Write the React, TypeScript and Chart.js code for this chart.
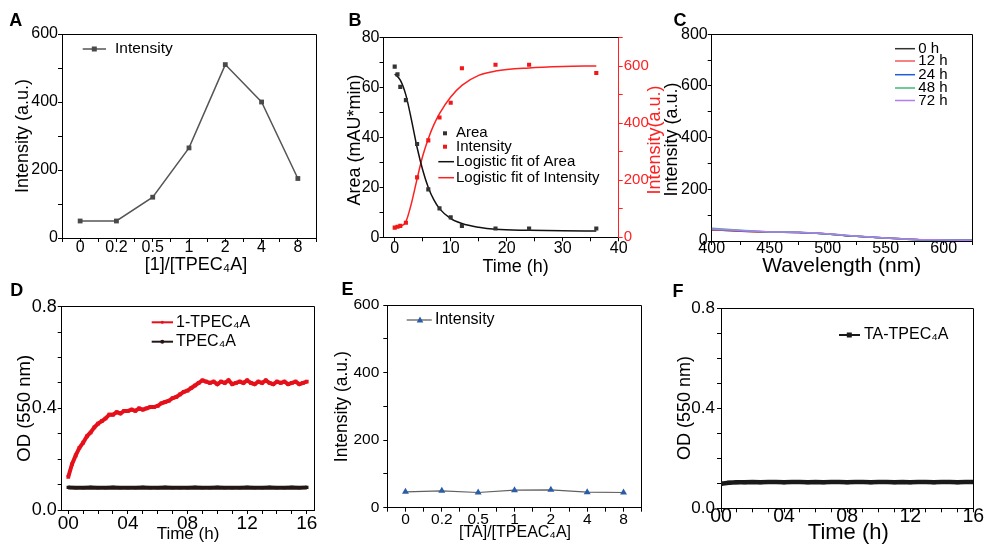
import React, { useEffect, useRef } from "react";
import { Chart, registerables } from "chart.js";

Chart.register(...registerables);

const FONT = "'Liberation Sans', Arial, Helvetica, sans-serif";
const CW = 984;
const CH = 549;
const Y_W = 50; // width reserved for left/right tick labels
const X_H = 30; // height reserved for bottom tick labels

// ---------- Panel A ----------
const ratioLabels = ["0", "0.2", "0.5", "1", "2", "4", "8"];
const aIntensity = [50, 50, 120, 265, 510, 400, 175];

// ---------- Panel B ----------
const bTimes = [0, 0.5, 1, 2, 4, 6, 8, 10, 12, 18, 24, 36];
const bArea = [68.4, 65.3, 60.3, 55, 37.4, 19.2, 11.6, 8, 4.5, 3.5, 3.5, 3.5];
const bIntensity = [34, 37, 40, 51, 210, 340, 420, 472, 593, 605, 605, 576];
const bFitTimes = [0, 1, 2, 3, 4, 5, 6, 7, 8, 10, 12, 15, 18, 24, 30, 36];
const bAreaFit = [65.5, 63, 57, 47, 36, 27, 20, 15, 11.5, 7.5, 5.5, 4, 3.2, 2.8, 2.6, 2.5];
const bIntensityFit = [33, 38, 55, 120, 205, 285, 346, 395, 434, 492, 533, 568, 583, 594, 599, 601];

// ---------- Panel C ----------
const wavelengths = [400, 425, 450, 475, 500, 525, 550, 575, 600, 625];
const c0h = [43, 38, 34, 33, 27, 18, 12, 6, 3.5, 2.5];
const c12h = [44, 39, 34, 33, 27, 18, 12, 6, 3.5, 2.5];
const c24h = [45, 40, 35, 33, 27, 18, 12, 6, 3.5, 2.5];
const c48h = [49, 42, 35, 34, 27, 18, 12, 6, 3.5, 2.5];
const c72h = [46, 41, 35, 34, 28, 19, 12, 6, 4, 2.5];
const cLabels = ["0 h", "12 h", "24 h", "48 h", "72 h"];

// ---------- Panel D ----------
const dTimes = [
  0, 0.25, 0.5, 0.75, 1, 1.25, 1.5, 1.75, 2, 2.25, 2.5, 2.75, 3, 3.25, 3.5, 3.75,
  4, 4.25, 4.5, 4.75, 5, 5.25, 5.5, 5.75, 6, 6.25, 6.5, 6.75, 7, 7.25, 7.5, 7.75,
  8, 8.25, 8.5, 8.75, 9, 9.25, 9.5, 9.75, 10, 10.25, 10.5, 10.75, 11, 11.25, 11.5, 11.75,
  12, 12.25, 12.5, 12.75, 13, 13.25, 13.5, 13.75, 14, 14.25, 14.5, 14.75, 15, 15.25, 15.5, 15.75, 16,
];
const dComplex = [
  0.13, 0.18, 0.215, 0.245, 0.265, 0.29, 0.305, 0.325, 0.34, 0.35, 0.36, 0.375, 0.375, 0.385, 0.38, 0.39,
  0.39, 0.395, 0.39, 0.4, 0.395, 0.4, 0.405, 0.405, 0.41, 0.42, 0.425, 0.43, 0.44, 0.445, 0.455, 0.465,
  0.47, 0.48, 0.49, 0.5, 0.51, 0.505, 0.5, 0.505, 0.495, 0.505, 0.5, 0.51, 0.495, 0.5, 0.505, 0.5,
  0.51, 0.5, 0.495, 0.505, 0.5, 0.51, 0.5, 0.495, 0.505, 0.5, 0.505, 0.495, 0.5, 0.505, 0.495, 0.5, 0.505,
];
const halfHours = [
  0, 0.5, 1, 1.5, 2, 2.5, 3, 3.5, 4, 4.5, 5, 5.5, 6, 6.5, 7, 7.5,
  8, 8.5, 9, 9.5, 10, 10.5, 11, 11.5, 12, 12.5, 13, 13.5, 14, 14.5, 15, 15.5, 16,
];
const dHost = [
  0.089, 0.088, 0.088, 0.089, 0.088, 0.088, 0.089, 0.088, 0.088, 0.088, 0.089, 0.088, 0.088, 0.089, 0.088, 0.088,
  0.088, 0.089, 0.088, 0.088, 0.089, 0.088, 0.088, 0.088, 0.089, 0.088, 0.088, 0.089, 0.088, 0.088, 0.089, 0.088, 0.089,
];

// ---------- Panel E ----------
const taRatioLabels = ["0", "0.2", "0.5", "1", "2", "4", "8"];
const eIntensity = [47, 50, 45, 52, 53, 46, 45];

// ---------- Panel F ----------
const fTA = [
  0.098, 0.102, 0.104, 0.104, 0.105, 0.104, 0.105, 0.105, 0.104, 0.105, 0.105, 0.104, 0.105, 0.104, 0.105, 0.105,
  0.104, 0.105, 0.105, 0.104, 0.105, 0.105, 0.104, 0.105, 0.104, 0.105, 0.105, 0.104, 0.105, 0.105, 0.104, 0.105, 0.105,
];

// ---------- helpers ----------
type TextItem = {
  text: string; x: number; y: number; size: number;
  rotate?: boolean; color?: string; bold?: boolean;
};
type LegendItem = {
  y: number; text: string; tx: number; size: number;
  x1?: number; x2?: number; lineColor?: string; lw?: number;
  mx?: number; marker?: "rect" | "triangle" | "circle"; mcolor?: string; msize?: number;
};
type Extras = { texts: TextItem[]; legend: LegendItem[]; boxRight?: boolean };

const align = (v: number) => Math.round(v - 0.5) + 0.5;

function drawMarker(ctx: CanvasRenderingContext2D, kind: string, x: number, y: number, s: number, color: string) {
  ctx.fillStyle = color;
  if (kind === "rect") {
    ctx.fillRect(x - s / 2, y - s / 2, s, s);
  } else if (kind === "triangle") {
    ctx.beginPath();
    ctx.moveTo(x, y - s * 0.6);
    ctx.lineTo(x + s * 0.55, y + s * 0.4);
    ctx.lineTo(x - s * 0.55, y + s * 0.4);
    ctx.closePath();
    ctx.fill();
  } else {
    ctx.beginPath();
    ctx.arc(x, y, s / 2, 0, Math.PI * 2);
    ctx.fill();
  }
}

function makePlugin(ex: Extras) {
  return {
    id: "panelExtras",
    afterDraw(chart: any) {
      const ctx: CanvasRenderingContext2D = chart.ctx;
      const a = chart.chartArea;
      ctx.save();
      ctx.strokeStyle = "#000";
      ctx.lineWidth = 1;
      ctx.beginPath();
      ctx.moveTo(align(a.left), align(a.top));
      ctx.lineTo(align(a.right), align(a.top));
      if (ex.boxRight !== false) ctx.lineTo(align(a.right), align(a.bottom));
      ctx.stroke();

      for (const t of ex.texts) {
        ctx.save();
        ctx.font = `${t.bold ? "bold " : ""}${t.size}px ${FONT}`;
        ctx.fillStyle = t.color || "#000";
        ctx.textAlign = "center";
        ctx.textBaseline = "middle";
        ctx.translate(t.x, t.y);
        if (t.rotate) ctx.rotate(-Math.PI / 2);
        ctx.fillText(t.text, 0, 0);
        ctx.restore();
      }

      for (const l of ex.legend) {
        if (l.x1 !== undefined && l.x2 !== undefined) {
          ctx.strokeStyle = l.lineColor || "#000";
          ctx.lineWidth = l.lw || 1.5;
          ctx.beginPath();
          ctx.moveTo(l.x1, l.y);
          ctx.lineTo(l.x2, l.y);
          ctx.stroke();
        }
        if (l.marker && l.mx !== undefined) {
          drawMarker(ctx, l.marker, l.mx, l.y, l.msize || 4, l.mcolor || "#000");
        }
        ctx.font = `${l.size}px ${FONT}`;
        ctx.fillStyle = "#000";
        ctx.textAlign = "left";
        ctx.textBaseline = "middle";
        ctx.fillText(l.text, l.tx, l.y);
      }
      ctx.restore();
    },
  };
}

type AxisOpt = {
  pos: "left" | "right" | "bottom";
  min: number; max: number; step: number;
  fmt: (v: number) => string;
  size: number; pad: number; tl?: number; color?: string;
};

function axis(o: AxisOpt) {
  const c = o.color || "#000";
  return {
    type: "linear",
    position: o.pos,
    min: o.min,
    max: o.max,
    afterFit: (s: any) => {
      if (o.pos === "bottom") s.height = X_H;
      else s.width = Y_W;
    },
    ticks: {
      stepSize: o.step,
      autoSkip: false,
      includeBounds: false,
      maxRotation: 0,
      minRotation: 0,
      padding: o.pad,
      color: c,
      font: { family: FONT, size: o.size, lineHeight: 1 },
      callback: (v: any) => o.fmt(Number(v)),
    },
    grid: {
      drawOnChartArea: false,
      drawTicks: true,
      tickLength: o.tl ?? 4,
      color: c,
      tickColor: c,
      lineWidth: 1,
    },
    border: { display: true, color: c, width: 1 },
  };
}

const catFmt = (labels: string[]) => (v: number) => {
  const i = Math.round(v * 2);
  if (i % 2 !== 0) return "";
  return labels[i / 2] ?? "";
};
const everyFmt = (n: number) => (v: number) => {
  const r = Math.round(v);
  return Math.abs(v - r) < 1e-6 && r % n === 0 ? String(r) : "";
};
const odFmt = (v: number) => {
  const k = Math.round(v * 10);
  return k % 4 === 0 ? (k / 10).toFixed(1) : "";
};
const hourFmt = (v: number) => {
  const r = Math.round(v);
  return Math.abs(v - r) < 1e-6 && r % 4 === 0 && r >= 0 ? String(r).padStart(2, "0") : "";
};

// plot-area edges -> layout padding (accounting for the fixed scale sizes)
function pad(l: number, t: number, r: number, b: number, rightAxis = false) {
  return {
    left: l - Y_W,
    top: t,
    right: CW - r - (rightAxis ? Y_W : 0),
    bottom: CH - b - X_H,
  };
}

function baseOptions(padding: any, scales: any) {
  return {
    responsive: false,
    animation: false,
    events: [],
    layout: { padding },
    plugins: { legend: { display: false }, tooltip: { enabled: false }, title: { display: false } },
    scales,
  };
}

const pts = (xs: number[], ys: number[]) => ys.map((y, i) => ({ x: xs[i], y }));
const idx = (ys: number[]) => ys.map((y, i) => ({ x: i, y }));

// ---------- chart configs ----------
function configA() {
  const ex: Extras = {
    texts: [
      { text: "A", x: 15.8, y: 20.8, size: 18, bold: true },
      { text: "Intensity (a.u.)", x: 23, y: 136, size: 18, rotate: true },
      { text: "[1]/[TPEC₄A]", x: 196, y: 265, size: 18 },
    ],
    legend: [
      { y: 49, text: "Intensity", tx: 115, size: 15.5, x1: 82.7, x2: 106, lineColor: "#555", lw: 1.5, mx: 94.3, marker: "rect", mcolor: "#4a4a4a", msize: 5 },
    ],
  };
  return {
    type: "line",
    data: {
      datasets: [
        {
          data: idx(aIntensity),
          borderColor: "#555",
          borderWidth: 1.5,
          pointStyle: "rect",
          pointRadius: 3.4,
          pointBackgroundColor: "#4a4a4a",
          pointBorderWidth: 0,
          tension: 0,
        },
      ],
    },
    options: baseOptions(pad(62, 34, 316, 238), {
      x: axis({ pos: "bottom", min: -0.5, max: 6.5, step: 0.5, fmt: catFmt(ratioLabels), size: 16, pad: -2 }),
      y: axis({ pos: "left", min: 0, max: 600, step: 100, fmt: everyFmt(200), size: 16, pad: 0 }),
    }),
    plugins: [makePlugin(ex)],
  };
}

function configB() {
  const red = "#ff2020";
  const ex: Extras = {
    boxRight: false,
    texts: [
      { text: "B", x: 355, y: 20.8, size: 18, bold: true },
      { text: "Area (mAU*min)", x: 355, y: 140, size: 18, rotate: true },
      { text: "Intensity(a.u.)", x: 655, y: 140, size: 18, rotate: true, color: red },
      { text: "Time (h)", x: 515.7, y: 266.7, size: 18 },
    ],
    legend: [
      { y: 133.3, text: "Area", tx: 456, size: 15, mx: 445, marker: "rect", mcolor: "#333", msize: 4 },
      { y: 146.7, text: "Intensity", tx: 456, size: 15, mx: 445, marker: "rect", mcolor: "#f01818", msize: 4 },
      { y: 161.7, text: "Logistic fit of Area", tx: 456, size: 15, x1: 438.3, x2: 454, lineColor: "#111", lw: 1.5 },
      { y: 177.7, text: "Logistic fit of Intensity", tx: 456, size: 15, x1: 438.3, x2: 454, lineColor: red, lw: 1.5 },
    ],
  };
  return {
    type: "line",
    data: {
      datasets: [
        { data: pts(bTimes, bArea), yAxisID: "y", showLine: false, pointStyle: "rect", pointRadius: 2.9, pointBackgroundColor: "#333", pointBorderWidth: 0, borderColor: "#333" },
        { data: pts(bTimes, bIntensity), yAxisID: "y2", showLine: false, pointStyle: "rect", pointRadius: 2.9, pointBackgroundColor: "#f01818", pointBorderWidth: 0, borderColor: "#f01818" },
        { data: pts(bFitTimes, bAreaFit), yAxisID: "y", borderColor: "#111", borderWidth: 1.5, pointRadius: 0, cubicInterpolationMode: "monotone" },
        { data: pts(bFitTimes, bIntensityFit), yAxisID: "y2", borderColor: red, borderWidth: 1.5, pointRadius: 0, cubicInterpolationMode: "monotone" },
      ],
    },
    options: baseOptions(pad(383.5, 37.7, 618.7, 237.3, true), {
      x: axis({ pos: "bottom", min: -2, max: 40, step: 5, fmt: everyFmt(10), size: 16, pad: -1 }),
      y: axis({ pos: "left", min: 0, max: 80, step: 10, fmt: everyFmt(20), size: 16, pad: 0 }),
      y2: axis({ pos: "right", min: 0, max: 700, step: 100, fmt: everyFmt(200), size: 15, pad: 1, color: red }),
    }),
    plugins: [makePlugin(ex)],
  };
}

function configC() {
  const colors = ["#333333", "#f25a5a", "#1f5fd6", "#3cb878", "#b07ef0"];
  const series = [c0h, c12h, c24h, c48h, c72h];
  const rows = [48.7, 61, 74.7, 88, 100.5];
  const ex: Extras = {
    texts: [
      { text: "C", x: 680, y: 20.8, size: 18, bold: true },
      { text: "Intensity (a.u.)", x: 672.5, y: 139.5, size: 18, rotate: true },
      { text: "Wavelength (nm)", x: 841.7, y: 266.7, size: 21 },
    ],
    legend: cLabels.map((t, i) => ({ y: rows[i], text: t, tx: 918.3, size: 15, x1: 895, x2: 915, lineColor: colors[i], lw: 1.5 })),
  };
  return {
    type: "line",
    data: {
      datasets: series.map((s, i) => ({
        data: pts(wavelengths, s),
        borderColor: colors[i],
        borderWidth: 1.5,
        pointRadius: 0,
        cubicInterpolationMode: "monotone",
        order: 4 - i,
      })),
    },
    options: baseOptions(pad(711.7, 34.3, 972.7, 241), {
      x: axis({ pos: "bottom", min: 400, max: 625, step: 25, fmt: everyFmt(50), size: 16, pad: -4.5 }),
      y: axis({ pos: "left", min: 0, max: 800, step: 100, fmt: everyFmt(200), size: 16, pad: 0 }),
    }),
    plugins: [makePlugin(ex)],
  };
}

function configD() {
  const red = "#e6101a";
  const dark = "#231815";
  const ex: Extras = {
    texts: [
      { text: "D", x: 16.7, y: 291, size: 18, bold: true },
      { text: "OD (550 nm)", x: 25, y: 408.3, size: 18.5, rotate: true },
      { text: "Time (h)", x: 188, y: 534, size: 17 },
    ],
    legend: [
      { y: 322.3, text: "1-TPEC₄A", tx: 176, size: 16, x1: 151.7, x2: 173, lineColor: red, lw: 2, mx: 162.3, marker: "circle", mcolor: red, msize: 3 },
      { y: 341.7, text: "TPEC₄A", tx: 176, size: 16, x1: 151.7, x2: 173, lineColor: dark, lw: 2, mx: 162.3, marker: "circle", mcolor: dark, msize: 4 },
    ],
  };
  return {
    type: "line",
    data: {
      datasets: [
        { data: pts(dTimes, dComplex), borderColor: red, borderWidth: 4, pointRadius: 2.6, pointStyle: "rect", pointBackgroundColor: red, pointBorderWidth: 0, tension: 0 },
        { data: pts(halfHours, dHost), borderColor: dark, borderWidth: 4, pointRadius: 2.4, pointStyle: "rect", pointBackgroundColor: dark, pointBorderWidth: 0, tension: 0 },
      ],
    },
    options: baseOptions(pad(61.7, 306.7, 315, 510), {
      x: axis({ pos: "bottom", min: -0.44, max: 16.55, step: 1, fmt: hourFmt, size: 19, pad: 0 }),
      y: axis({ pos: "left", min: 0, max: 0.8, step: 0.1, fmt: odFmt, size: 18, pad: 1 }),
    }),
    plugins: [makePlugin(ex)],
  };
}

function configE() {
  const blue = "#2a5ca8";
  const ex: Extras = {
    texts: [
      { text: "E", x: 347.5, y: 290, size: 18, bold: true },
      { text: "Intensity (a.u.)", x: 341.7, y: 406.7, size: 17.5, rotate: true },
      { text: "[TA]/[TPEAC₄A]", x: 515, y: 532.3, size: 16 },
    ],
    legend: [
      { y: 320, text: "Intensity", tx: 435, size: 16, x1: 406.7, x2: 431.7, lineColor: "#555", lw: 1.2, mx: 420, marker: "triangle", mcolor: blue, msize: 6 },
    ],
  };
  return {
    type: "line",
    data: {
      datasets: [
        { data: idx(eIntensity), borderColor: "#606060", borderWidth: 1.2, pointStyle: "triangle", pointRadius: 4, pointBackgroundColor: blue, pointBorderColor: blue, pointBorderWidth: 0, tension: 0 },
      ],
    },
    options: baseOptions(pad(387.3, 305, 641.7, 507.7), {
      x: axis({ pos: "bottom", min: -0.5, max: 6.5, step: 0.5, fmt: catFmt(taRatioLabels), size: 15.5, pad: 0.5 }),
      y: axis({ pos: "left", min: 0, max: 600, step: 100, fmt: everyFmt(200), size: 15.5, pad: 4 }),
    }),
    plugins: [makePlugin(ex)],
  };
}

function configF() {
  const dark = "#1a1a1a";
  const ex: Extras = {
    texts: [
      { text: "F", x: 678, y: 291.7, size: 18, bold: true },
      { text: "OD (550 nm)", x: 685, y: 408, size: 18, rotate: true },
      { text: "Time (h)", x: 848.3, y: 533, size: 22 },
    ],
    legend: [
      { y: 335, text: "TA-TPEC₄A", tx: 864, size: 16, x1: 839, x2: 860, lineColor: dark, lw: 2, mx: 849.3, marker: "rect", mcolor: dark, msize: 5 },
    ],
  };
  return {
    type: "line",
    data: {
      datasets: [
        { data: pts(halfHours, fTA), borderColor: dark, borderWidth: 4.5, pointRadius: 2.8, pointStyle: "rect", pointBackgroundColor: dark, pointBorderWidth: 0, tension: 0 },
      ],
    },
    options: baseOptions(pad(721, 308.3, 973.3, 508.3), {
      x: axis({ pos: "bottom", min: 0, max: 16, step: 1, fmt: hourFmt, size: 19.5, pad: -5 }),
      y: axis({ pos: "left", min: 0, max: 0.8, step: 0.1, fmt: odFmt, size: 17, pad: 2 }),
    }),
    plugins: [makePlugin(ex)],
  };
}

function Panel({ make }: { make: () => any }) {
  const ref = useRef<HTMLCanvasElement>(null);
  useEffect(() => {
    if (!ref.current) return;
    const chart = new Chart(ref.current, make());
    return () => chart.destroy();
  }, [make]);
  return (
    <canvas
      ref={ref}
      width={CW}
      height={CH}
      style={{ position: "absolute", left: 0, top: 0, width: CW, height: CH }}
    />
  );
}

export default function App() {
  return (
    <div style={{ position: "absolute", left: 0, top: 0, width: CW, height: CH, background: "#fff", overflow: "hidden" }}>
      <Panel make={configA} />
      <Panel make={configB} />
      <Panel make={configC} />
      <Panel make={configD} />
      <Panel make={configE} />
      <Panel make={configF} />
    </div>
  );
}
